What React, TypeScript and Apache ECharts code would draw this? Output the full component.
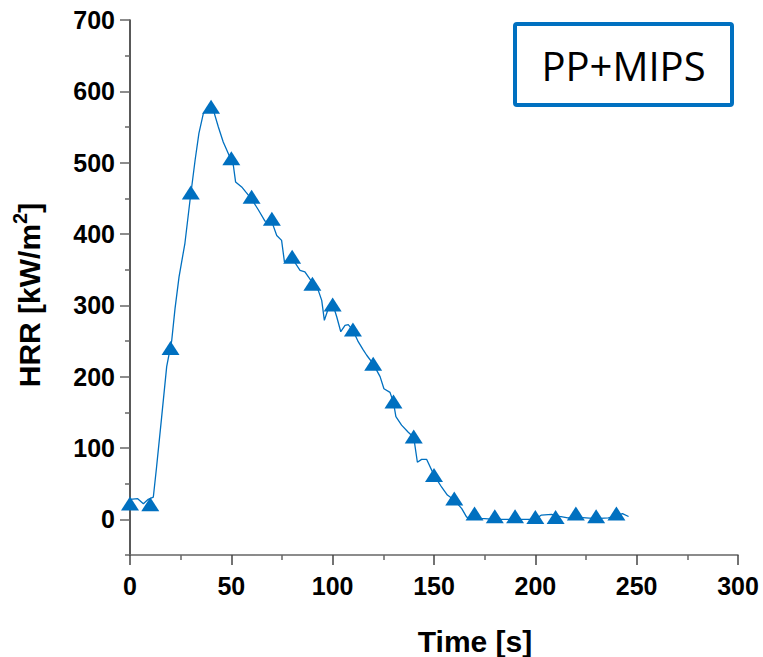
import React, { useEffect, useRef } from "react";
import * as echarts from "echarts";

// Fine-sampled HRR curve (time in s, HRR in kW/m²)
const lineTime = [0, 3.8, 6.6, 9, 11.5, 13.1, 15.6, 18.1, 20.6, 22.2, 24.2, 27.1, 29.6, 32.1, 34, 36.2, 38.5, 41.1, 43.6, 46, 48.5, 51, 52.1, 55.1, 57.1, 60, 63.3, 66.6, 70, 72.4, 74.8, 76.2, 80, 83.9, 86.3, 90, 92.9, 94.6, 95.9, 97.9, 100, 102, 104, 106.1, 107.7, 110, 112.6, 115, 116.8, 120, 123.4, 125.3, 128.3, 130, 131.2, 134, 137.3, 140, 141.8, 143.9, 146.4, 150, 153.8, 156.6, 160, 163.7, 166.1, 170, 175, 180, 190, 200, 203, 208, 212, 216, 220, 230, 236, 240, 243, 246];
const lineHRR = [28, 29, 22, 28, 31, 73, 143, 214, 251, 295, 340, 387, 447, 503, 541, 569, 575, 574, 550, 529, 513, 496, 473, 466, 459, 449, 434, 418, 417, 398, 391, 361, 366, 349, 347, 332, 321, 307, 279, 296, 302, 284, 263, 272, 273, 265, 249, 238, 230, 218, 200, 183, 178, 164, 144, 132, 122, 115, 80, 84, 84, 62, 45, 34, 27, 15, 3, 1, 1, 0, 0, 0, 6, 7, 4, 2, 3, 1, 2, 5, 8, 4];

// Triangle markers every 10 s
const markerTime = [0, 10, 20, 30, 40, 50, 60, 70, 80, 90, 100, 110, 120, 130, 140, 150, 160, 170, 180, 190, 200, 210, 220, 230, 240];
const markerHRR = [19, 18, 237, 455, 575, 503, 449, 418, 365, 327, 298, 263, 215, 162, 113, 59, 26, 5, 1, 1, 0, 0, 5, 1, 5];

// Axis tick values
const yMajorTicks = [0, 100, 200, 300, 400, 500, 600, 700];
const yMinorTicks = [-50, 50, 150, 250, 350, 450, 550, 650];

const xTitle = "Time [s]";
const yTitleMain = "HRR [kW/m";
const yTitleSup = "2";
const yTitleEnd = "]";
const legendLabel = "PP+MIPS";

const BLUE = "#0070c0";

export default function App() {
  const ref = useRef<HTMLDivElement>(null);

  useEffect(() => {
    if (!ref.current) return;
    const chart = echarts.init(ref.current, undefined, { renderer: "svg" });
    const labelFont = {
      fontSize: 25,
      fontWeight: "bold" as const,
      fontFamily: "Liberation Sans, Arial, sans-serif",
      color: "#000",
    };
    chart.setOption({
      animation: false,
      backgroundColor: "#fff",
      grid: { left: 130, right: 25, top: 20, bottom: 102, containLabel: false },
      xAxis: {
        type: "value",
        min: 0,
        max: 300,
        interval: 50,
        axisLine: { show: true, onZero: false, lineStyle: { color: "#666", width: 1.5 } },
        axisTick: { show: true, inside: false, length: 10, lineStyle: { color: "#444", width: 1.5 } },
        minorTick: { show: true, splitNumber: 2, length: 5, lineStyle: { color: "#666", width: 1.5 } },
        axisLabel: { ...labelFont, margin: 18 },
        splitLine: { show: false },
        minorSplitLine: { show: false },
      },
      yAxis: [
        {
          type: "value",
          position: "left",
          min: -50,
          max: 700,
          axisLine: { show: true, onZero: false, lineStyle: { color: "#222", width: 1.5 } },
          axisTick: {
            show: true,
            inside: false,
            length: 10,
            customValues: yMajorTicks,
            lineStyle: { color: "#666", width: 1.5 },
          },
          axisLabel: { ...labelFont, margin: 15, customValues: yMajorTicks },
          splitLine: { show: false },
        },
        {
          type: "value",
          position: "left",
          offset: 0,
          min: -50,
          max: 700,
          axisLine: { show: false, onZero: false },
          axisTick: {
            show: true,
            inside: false,
            length: 5,
            customValues: yMinorTicks,
            lineStyle: { color: "#666", width: 1.5 },
          },
          axisLabel: { show: false },
          splitLine: { show: false },
        },
      ],
      series: [
        {
          type: "line",
          data: lineTime.map((t, i) => [t, lineHRR[i]]),
          showSymbol: false,
          symbol: "none",
          lineStyle: { color: BLUE, width: 1.3 },
          z: 2,
        },
        {
          type: "scatter",
          data: markerTime.map((t, i) => [t, markerHRR[i]]),
          symbol: "triangle",
          symbolSize: [18, 14],
          symbolOffset: [0, -2.3],
          itemStyle: { color: BLUE, opacity: 1 },
          z: 3,
        },
      ],
      graphic: [
        {
          type: "text",
          x: 475,
          y: 641,
          style: {
            text: xTitle,
            font: "bold 30px 'Liberation Sans', Arial, sans-serif",
            fill: "#000",
            align: "center",
            verticalAlign: "middle",
          },
        },
        {
          type: "text",
          x: 27,
          y: 295,
          rotation: Math.PI / 2,
          style: {
            text: `{b|${yTitleMain}}{s|${yTitleSup}}{b|${yTitleEnd}}`,
            rich: {
              b: {
                fontSize: 30,
                fontWeight: "bold",
                fontFamily: "Liberation Sans, Arial, sans-serif",
                fill: "#000",
                lineHeight: 34,
                verticalAlign: "bottom",
              },
              s: {
                fontSize: 20,
                fontWeight: "bold",
                fontFamily: "Liberation Sans, Arial, sans-serif",
                fill: "#000",
                lineHeight: 20,
                verticalAlign: "top",
              },
            },
            align: "center",
            verticalAlign: "middle",
          },
        },
        {
          type: "rect",
          shape: { x: 515, y: 24, width: 217, height: 81, r: 2 },
          style: { fill: "#fff", stroke: BLUE, lineWidth: 4 },
          z: 10,
        },
        {
          type: "text",
          x: 623.5,
          y: 65,
          style: {
            text: legendLabel,
            font: "40px 'Open Sans', 'Noto Sans', sans-serif",
            fill: "#000",
            align: "center",
            verticalAlign: "middle",
          },
          z: 11,
        },
      ],
    });
    return () => chart.dispose();
  }, []);

  return (
    <div
      ref={ref}
      style={{ position: "fixed", left: 0, top: 0, width: 763, height: 657 }}
    />
  );
}
